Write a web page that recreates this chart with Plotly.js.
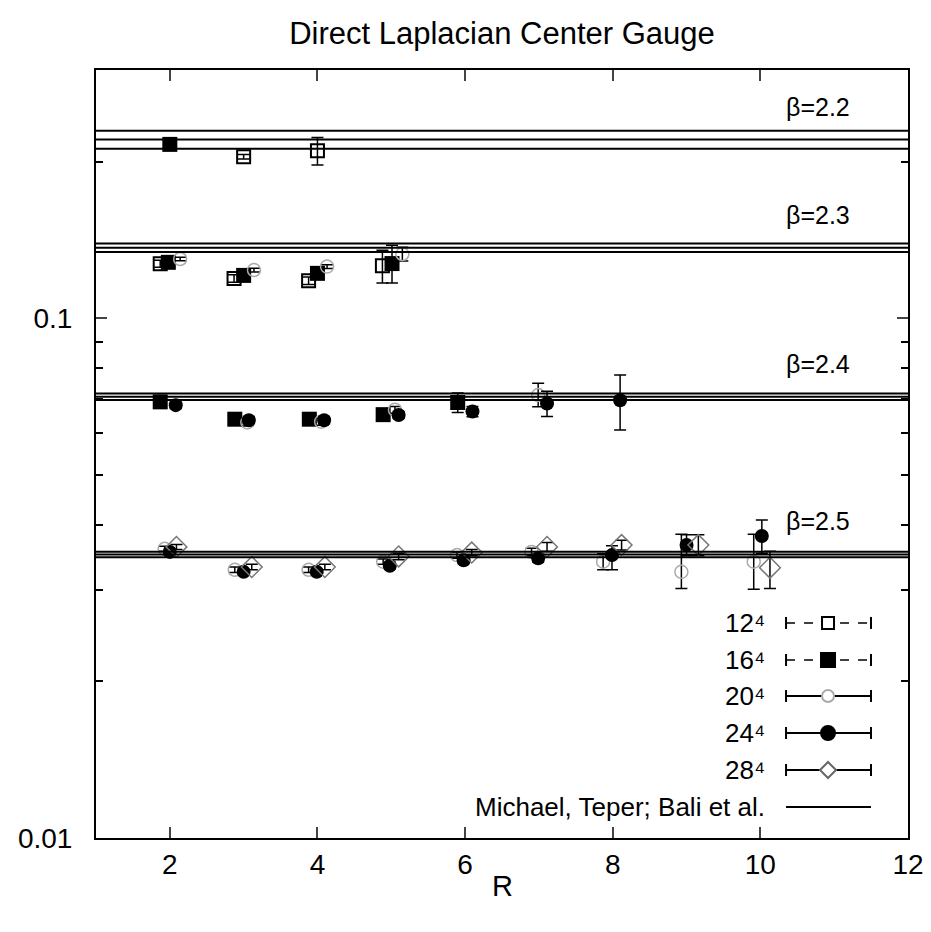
<!DOCTYPE html>
<html>
<head>
<meta charset="utf-8">
<script src="https://cdn.plot.ly/plotly-3.0.1.min.js"></script>
<style>html,body{margin:0;padding:0;background:#fff;}#chart{width:931px;height:932px;}</style>
</head>
<body>
<div id="chart"></div>
<script>
// ---------- data ----------
const R12  = [3.0, 4.0, 1.87, 2.87, 3.88, 4.88];
const V12  = [0.2043, 0.2098, 0.1272, 0.1192, 0.1180, 0.1261];
const E12p = [0.002, 0.0128, 0.002, 0.002, 0.002, 0.009];
const E12m = [0.002, 0.0129, 0.002, 0.002, 0.002, 0.0093];

const R16  = [2.0, 1.98, 3.0, 4.0, 5.01, 1.87, 2.88, 3.89, 4.89, 5.90];
const V16  = [0.2158, 0.1280, 0.1208, 0.1219, 0.1273, 0.0690, 0.0639, 0.0639, 0.0652, 0.0688];
const E16p = [0.002, 0.002, 0.002, 0.002, 0.0108, 0.001, 0.001, 0.001, 0.001, 0.003];
const E16m = [0.002, 0.002, 0.002, 0.002, 0.0105, 0.001, 0.001, 0.001, 0.001, 0.003];

const R20  = [2.14, 3.14, 4.13, 5.15, 3.05, 4.05, 5.05, 6.99, 1.93, 2.88, 3.88, 4.89, 5.89, 6.90, 7.87, 8.93, 9.91];
const V20  = [0.1299, 0.1237, 0.1256, 0.1328, 0.0630, 0.0632, 0.0666, 0.0711, 0.0360, 0.0328, 0.0328, 0.0340, 0.0350, 0.0355, 0.0340, 0.0325, 0.0340];
const E20p = [0.001, 0.001, 0.001, 0.004, 0.001, 0.001, 0.001, 0.0038, 0.0004, 0.0004, 0.0004, 0.0004, 0.0005, 0.0006, 0.0012, 0.0059, 0.0044];
const E20m = [0.001, 0.001, 0.001, 0.004, 0.001, 0.001, 0.001, 0.0036, 0.0004, 0.0004, 0.0004, 0.0004, 0.0005, 0.0006, 0.0012, 0.0023, 0.0039];

const R24  = [2.08, 3.07, 4.09, 5.10, 6.10, 7.11, 8.10, 2.0, 3.0, 3.99, 4.98, 5.98, 6.99, 7.99, 9.0, 10.02];
const V24  = [0.0680, 0.0636, 0.0636, 0.0651, 0.0661, 0.0685, 0.0695, 0.0355, 0.0325, 0.0325, 0.0334, 0.0342, 0.0345, 0.0350, 0.0366, 0.0381];
const E24p = [0.001, 0.001, 0.001, 0.001, 0.0015, 0.0038, 0.0082, 0.0004, 0.0004, 0.0004, 0.0005, 0.0005, 0.0006, 0.0015, 0.0017, 0.0028];
const E24m = [0.001, 0.001, 0.001, 0.001, 0.0015, 0.0038, 0.0086, 0.0004, 0.0004, 0.0004, 0.0005, 0.0005, 0.0006, 0.0022, 0.0017, 0.0028];

const R28  = [2.09, 3.11, 4.10, 5.10, 6.09, 7.11, 8.12, 9.16, 10.13];
const V28  = [0.0363, 0.0332, 0.0332, 0.0348, 0.0354, 0.0363, 0.0366, 0.0366, 0.0331];
const E28p = [0.0004, 0.0004, 0.0004, 0.0005, 0.0005, 0.0007, 0.0008, 0.0017, 0.0025];
const E28m = [0.0004, 0.0004, 0.0004, 0.0005, 0.0005, 0.0007, 0.0008, 0.0017, 0.0029];

// reference string tensions (Michael, Teper; Bali et al.)
const betaLabels = ['β=2.2', 'β=2.3', 'β=2.4', 'β=2.5'];
const refCentral = [0.2205, 0.1366, 0.0706, 0.0351];
const refError   = [0.0088, 0.0026, 0.0010, 0.00044];

const seriesNames = ['12⁴', '16⁴', '20⁴', '24⁴', '28⁴'];
const refName = 'Michael, Teper; Bali et al.';
const yTickVals = [0.01, 0.1];
const yTickText = ['0.01', '0.1'];
const yMinorVals = [0.02, 0.03, 0.04, 0.05, 0.06, 0.07, 0.08, 0.09, 0.2, 0.3];
const xTickVals = [2, 4, 6, 8, 10, 12];

// ---------- drawing ----------
const FONT = 'Liberation Sans, Arial, Helvetica, DejaVu Sans, sans-serif';
const X_MIN = 1, X_MAX = 12, Y_MIN = 0.01, Y_MAX = 0.3;

function errSpec(p, m) {
  return {type: 'data', symmetric: false, array: p, arrayminus: m,
          color: '#000', thickness: 1.5, width: 6};
}
function pts(x, y, p, m, marker, name) {
  return {type: 'scatter', mode: 'markers', x: x, y: y, name: name,
          marker: marker, error_y: errSpec(p, m), showlegend: false, cliponaxis: true};
}

const traces = [
  pts(R12, V12, E12p, E12m, {symbol: 'square-open', size: 13, color: '#000', line: {width: 2, color: '#000'}}, seriesNames[0]),
  pts(R16, V16, E16p, E16m, {symbol: 'square', size: 15, color: '#000', line: {width: 0}}, seriesNames[1]),
  pts(R20, V20, E20p, E20m, {symbol: 'circle-open', size: 13, color: '#aaaaaa', line: {width: 1.5, color: '#aaaaaa'}}, seriesNames[2]),
  pts(R24, V24, E24p, E24m, {symbol: 'circle', size: 14, color: '#000', line: {width: 0}}, seriesNames[3]),
  pts(R28, V28, E28p, E28m, {symbol: 'diamond-open', size: 16, color: '#777777', line: {width: 1.5, color: '#777777'}}, seriesNames[4])
];

// reference bands: three horizontal lines per beta
const lx = [], ly = [];
refCentral.forEach((c, i) => {
  [c + refError[i], c, c - refError[i]].forEach(v => {
    lx.push(X_MIN, X_MAX, null);
    ly.push(v, v, null);
  });
});
traces.push({type: 'scatter', mode: 'lines', x: lx, y: ly, name: refName,
             line: {color: '#000', width: 2}, showlegend: false, hoverinfo: 'skip'});

// beta labels
const annotations = betaLabels.map((t, i) => ({
  text: t, x: 0.889, xref: 'paper', y: Math.log10(refCentral[i]), yref: 'y',
  xanchor: 'center', yanchor: 'middle', yshift: 33, showarrow: false,
  font: {family: FONT, size: 25, color: '#000'}
}));

// x axis title
annotations.push({text: 'R', x: 0.5, y: -0.062, xref: 'paper', yref: 'paper',
  xanchor: 'center', yanchor: 'middle', showarrow: false,
  font: {family: FONT, size: 29, color: '#000'}});

// custom gnuplot-style key (bottom right)
const keyRows = [0.280, 0.2318, 0.1849, 0.1367, 0.0885, 0.0404];
const keyLabelX = 0.826, keyL = 0.8498, keyR = 0.9544, keyM = 0.9015;
const labels = seriesNames.concat([refName]);
const shapes = [];
labels.forEach((t, i) => {
  annotations.push({text: t, x: keyLabelX, y: keyRows[i], xref: 'paper', yref: 'paper',
    xanchor: 'right', yanchor: 'middle', showarrow: false,
    font: {family: FONT, size: 26, color: '#000'}});
  const dashed = i < 2;
  shapes.push({type: 'line', xref: 'paper', yref: 'paper', x0: keyL, x1: keyR, y0: keyRows[i], y1: keyRows[i],
    line: {color: '#000', width: dashed ? 1.5 : 2, dash: dashed ? 'dash' : 'solid'}});
  if (i < 5) {
    [keyL, keyR].forEach(xc => shapes.push({type: 'line', xref: 'paper', yref: 'paper',
      xsizemode: 'pixel', ysizemode: 'pixel', xanchor: xc, yanchor: keyRows[i],
      x0: 0, x1: 0, y0: -6, y1: 6, line: {color: '#000', width: 2}}));
  }
});
function keyMarker(i, type, fill, lineColor, size) {
  shapes.push({type: type, xref: 'paper', yref: 'paper', xsizemode: 'pixel', ysizemode: 'pixel',
    xanchor: keyM, yanchor: keyRows[i], x0: -size, x1: size, y0: -size, y1: size,
    fillcolor: fill, line: {color: lineColor, width: 2}});
}
keyMarker(0, 'rect', '#fff', '#000', 6);
keyMarker(1, 'rect', '#000', '#000', 7);
keyMarker(2, 'circle', '#fff', '#aaaaaa', 6);
keyMarker(3, 'circle', '#000', '#000', 7);
shapes.push({type: 'path', xref: 'paper', yref: 'paper', xsizemode: 'pixel', ysizemode: 'pixel',
  xanchor: keyM, yanchor: keyRows[4], path: 'M 0 -8 L 8 0 L 0 8 L -8 0 Z',
  fillcolor: '#fff', line: {color: '#666', width: 2}});

const layout = {
  width: 931, height: 932,
  paper_bgcolor: '#fff', plot_bgcolor: '#fff',
  margin: {l: 96, r: 23, t: 70, b: 94},
  font: {family: FONT, size: 26, color: '#000'},
  title: {text: 'Direct Laplacian Center Gauge', x: 0.5, xref: 'paper', xanchor: 'center',
          y: 1 - 33 / 932, yref: 'container', yanchor: 'middle', font: {family: FONT, size: 31, color: '#000'}},
  xaxis: {range: [X_MIN, X_MAX], tickvals: xTickVals, ticks: 'inside', ticklen: 11, tickwidth: 2,
          showline: true, linewidth: 2, linecolor: '#000', mirror: 'ticks', showgrid: false, zeroline: false,
          tickfont: {family: FONT, size: 28}, ticklabelstandoff: 0},
  yaxis: {type: 'log', range: [Math.log10(Y_MIN), Math.log10(Y_MAX)], tickvals: yTickVals, ticktext: yTickText,
          ticks: 'inside', ticklen: 11, tickwidth: 2,
          showline: true, linewidth: 2, linecolor: '#000', mirror: 'ticks', showgrid: false, zeroline: false,
          tickfont: {family: FONT, size: 28}, ticklabelstandoff: 16,
          minor: {tickvals: yMinorVals, ticks: 'inside', ticklen: 7, tickwidth: 2, tickcolor: '#000', showgrid: false}},
  showlegend: false,
  annotations: annotations,
  shapes: shapes
};

Plotly.newPlot('chart', traces, layout, {displayModeBar: false, staticPlot: true});
</script>
</body>
</html>
